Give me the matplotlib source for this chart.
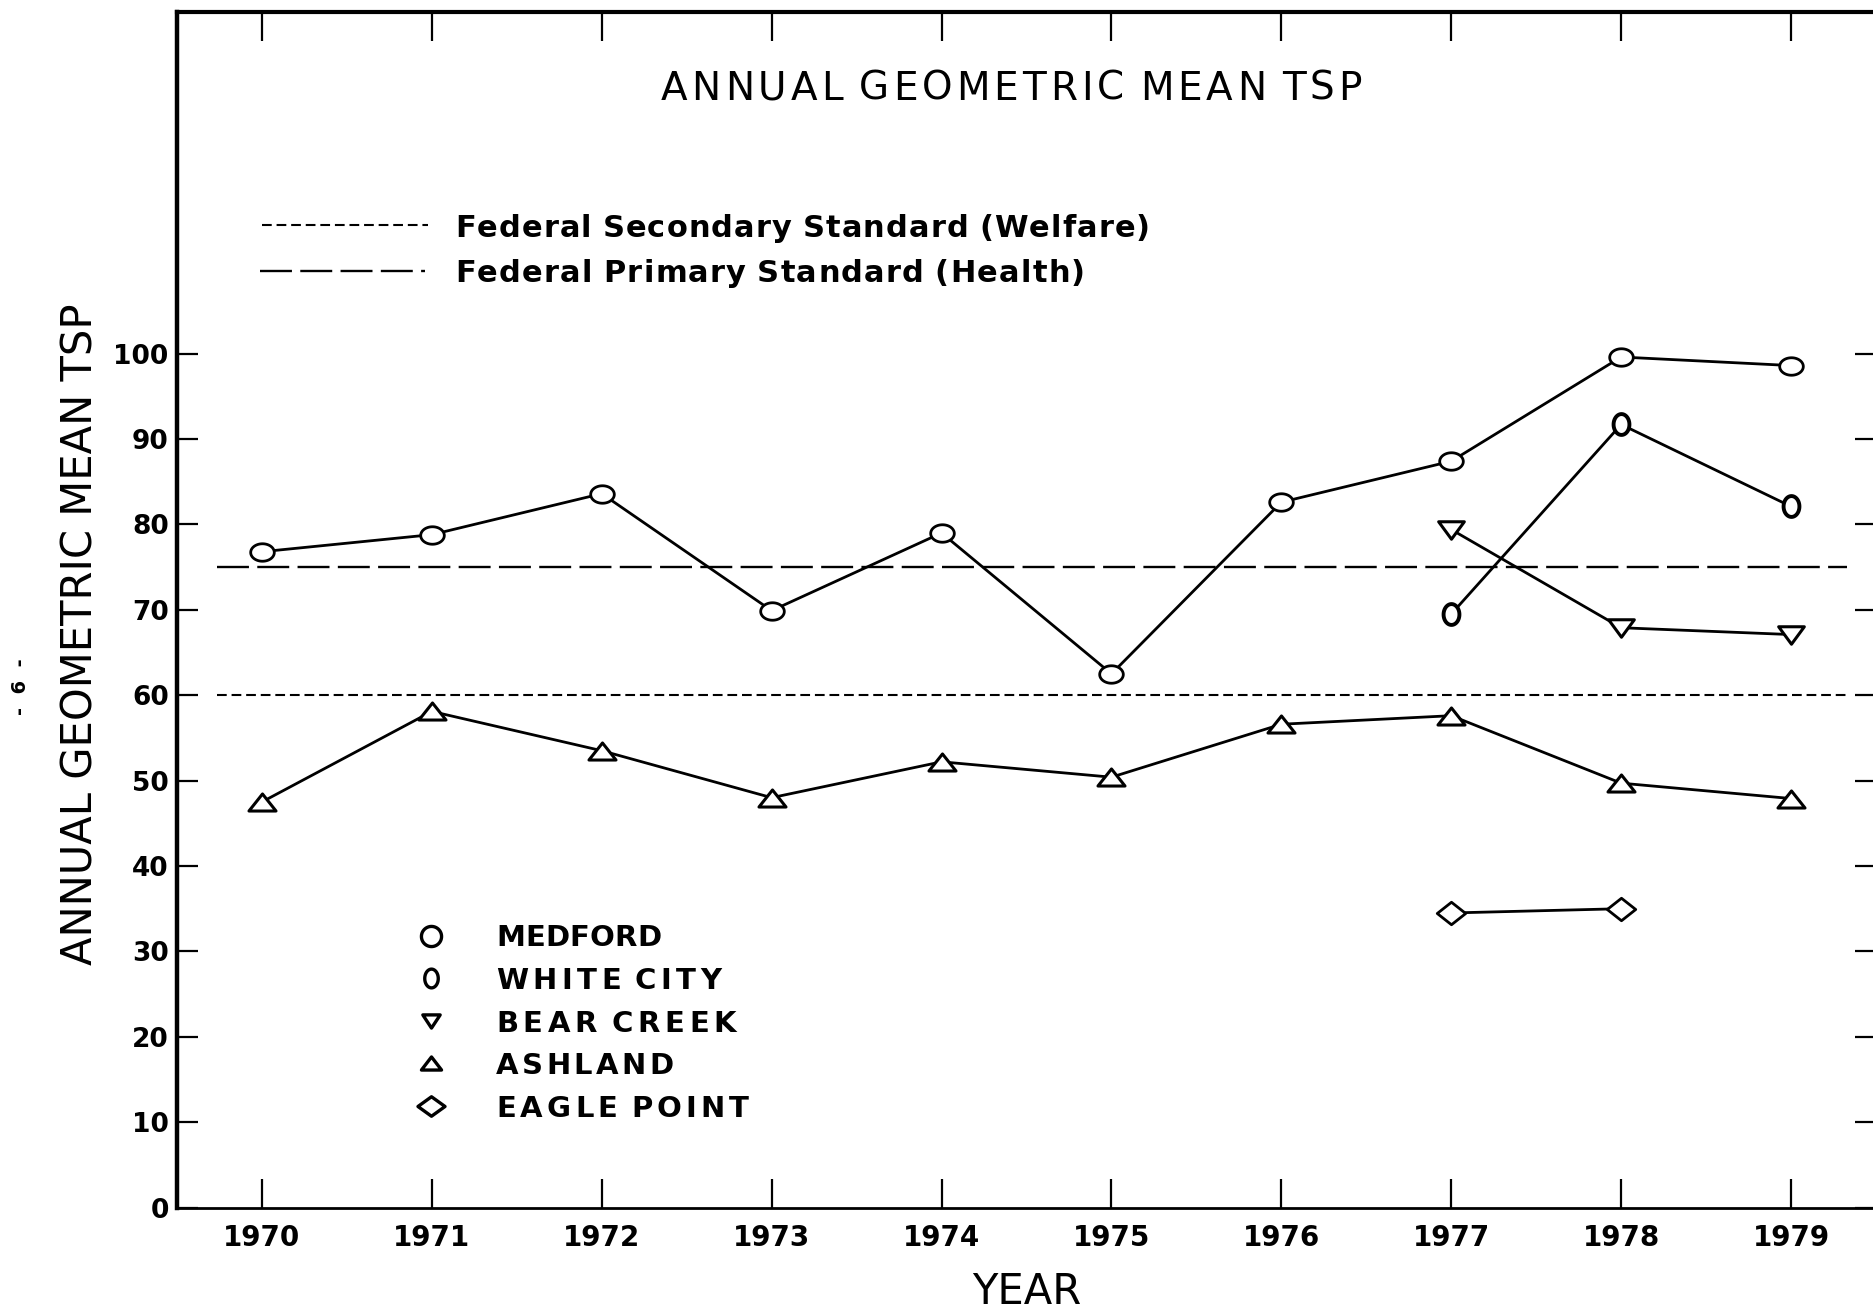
import matplotlib
matplotlib.use("Agg")
import matplotlib.pyplot as plt
from matplotlib.path import Path
from matplotlib.lines import Line2D
from matplotlib.font_manager import FontProperties
import numpy as np

# ---------------- data ----------------
years = [1970, 1971, 1972, 1973, 1974, 1975, 1976, 1977, 1978, 1979]
medford = [76.8, 78.8, 83.6, 69.9, 79.0, 62.5, 82.6, 87.4, 99.6, 98.6]
ashland = [47.5, 58.1, 53.5, 48.0, 52.2, 50.4, 56.6, 57.6, 49.7, 47.9]
wc_years = [1977, 1978, 1979]
white_city = [69.5, 91.7, 82.1]
bc_years = [1977, 1978, 1979]
bear_creek = [79.4, 67.9, 67.1]
ep_years = [1977, 1978]
eagle_point = [34.5, 35.0]
primary_std = 75      # Federal Primary Standard (Health)
secondary_std = 60    # Federal Secondary Standard (Welfare)
yticks = [0, 10, 20, 30, 40, 50, 60, 70, 80, 90, 100]
ytick_labels = ["0", "10", "20", "30", "40", "50", "60", "70", "80", "90", "100"]
legend_names = ["MEDFORD", "WHITE CITY", "BEAR CREEK", "ASHLAND", "EAGLE POINT"]
title_text = "ANNUAL GEOMETRIC MEAN TSP"
std_names = ["Federal Secondary Standard (Welfare)", "Federal Primary Standard (Health)"]

plt.rcParams["font.family"] = ["DejaVu Sans"]
plt.rcParams["lines.scale_dashes"] = False

W, H = 1873, 1313
fig = plt.figure(figsize=(W / 100, H / 100), dpi=100)
fig.patch.set_facecolor("white")
renderer = fig.canvas.get_renderer()


def F(x, y):
    """full-pixel position -> figure fraction"""
    return x / W, 1 - y / H


def tracked(x, y, s, target, size, weight="normal"):
    """Left-aligned text on baseline y, letter-spaced to span `target` px."""
    fp = FontProperties(family="DejaVu Sans", size=size, weight=weight)
    em = size * 100 / 72
    space_w = 0.32 * em
    glyphs = []
    n_space = 0
    for ch in s:
        if ch == " ":
            n_space += 1
            glyphs.append(None)
        else:
            w, h, d = renderer.get_text_width_height_descent(ch, fp, ismath=False)
            glyphs.append((ch, w))
    real = [g for g in glyphs if g is not None]
    ink = sum(w for _, w in real)
    gap = (target - ink - n_space * space_w) / max(len(real) - 1, 1)
    cx = x
    first = True
    for g in glyphs:
        if g is None:
            cx += space_w
            continue
        if not first:
            cx += gap
        ch, w = g
        fig.text(*F(cx, y), ch, fontproperties=fp, ha="left", va="baseline")
        cx += w
        first = False


def ellipse(rx, ry, n=64):
    t = np.linspace(0, 2 * np.pi, n)
    v = np.column_stack([rx * np.cos(t), ry * np.sin(t)])
    return Path(v, closed=True)


def poly(pts):
    pts = list(pts) + [pts[0]]
    return Path(pts, closed=True)


m_medford = ellipse(1.0, 0.74)
m_white = ellipse(0.76, 1.0)
m_down = poly([(-1, 0.68), (1, 0.68), (0, -0.68)])
m_up = poly([(-1, -0.63), (1, -0.63), (0, 0.63)])
m_diam = poly([(0, 0.79), (1, 0), (0, -0.79), (-1, 0)])

left, right, top, bottom = 177, 1876, 12, 1207.6
ax = fig.add_axes([left / W, 1 - bottom / H, (right - left) / W, (bottom - top) / H])
ax.set_xlim(1969.5, 1979.5)
ax.set_ylim(0, 140)

# standards
ax.plot([1969.735, 1979.33], [primary_std, primary_std], color="black", lw=1.7,
        dashes=(23, 6), zorder=2)
ax.plot([1969.735, 1979.33], [secondary_std, secondary_std], color="black", lw=1.5,
        dashes=(7, 3.5), zorder=2)

lk = dict(color="black", lw=2.0, markerfacecolor="white", markeredgecolor="black",
          zorder=3)
ax.plot(years, medford, marker=m_medford, markersize=17, mew=2.0, **lk)
ax.plot(years, ashland, marker=m_up, markersize=19.5, mew=2.2, **lk)
ax.plot(wc_years, white_city, marker=m_white, markersize=15.0, mew=2.8, **lk)
ax.plot(bc_years, bear_creek, marker=m_down, markersize=18.5, mew=2.2, **lk)
ax.plot(ep_years, eagle_point, marker=m_diam, markersize=20.5, mew=2.0, **lk)

# axes styling
for s, lw in (("left", 3.2), ("top", 3.0), ("bottom", 2.0), ("right", 2.0)):
    ax.spines[s].set_linewidth(lw)
ax.set_xticks(years)
ax.set_xticklabels([str(y) for y in years], fontsize=20, fontweight="bold")
ax.set_yticks(yticks)
ax.set_yticklabels(ytick_labels, fontsize=19, fontweight="bold")
ax.tick_params(axis="x", direction="in", length=21, width=1.6, top=True, pad=12)
ax.tick_params(axis="y", direction="in", length=15, width=1.6, right=True, pad=6)

# title and axis labels
tracked(661, 100, title_text, 701, 28, "normal")
fig.text(*F(81, 634), title_text, fontsize=30, rotation=90,
         ha="center", va="center")
fig.text(*F(1027, 1292), "YEAR", fontsize=30, ha="center", va="center")
fig.text(*F(20, 687), "-  6  -", fontsize=14, fontweight="bold", rotation=90,
         ha="center", va="center")

# standards legend (top)
fig.add_artist(Line2D([262 / W, 428 / W], [1 - 225 / H] * 2, color="black", lw=1.5,
                      dashes=(7, 3.5), transform=fig.transFigure))
fig.add_artist(Line2D([260 / W, 425 / W], [1 - 271 / H] * 2, color="black", lw=1.7,
                      dashes=(23, 6), transform=fig.transFigure))
tracked(455, 236.7, std_names[0], 695, 22, "bold")
tracked(455, 282, std_names[1], 630, 22, "bold")

# station legend (bottom)
baselines = [946.5, 989, 1032, 1074, 1117]
targets = [165, 225, 240, 177, 253]
leg_markers = [(ellipse(1, 1), 14.5), (ellipse(0.72, 1.0), 13.5),
               (poly([(-1, 0.76), (1, 0.76), (0, -0.76)]), 12.5),
               (poly([(-1, -0.65), (1, -0.65), (0, 0.65)]), 14.5),
               (poly([(0, 0.72), (1, 0), (0, -0.72), (-1, 0)]), 19.5)]
for (mk, ms), name, yb, tw in zip(leg_markers, legend_names, baselines, targets):
    fx, fy = F(431, yb - 11)
    fig.add_artist(Line2D([fx], [fy], marker=mk, markersize=ms, mew=2.4,
                          markerfacecolor="white", markeredgecolor="black",
                          linestyle="none", transform=fig.transFigure))
    tracked(496, yb, name, tw, 21, "bold")

fig.savefig("out.png", dpi=100, facecolor="white")
